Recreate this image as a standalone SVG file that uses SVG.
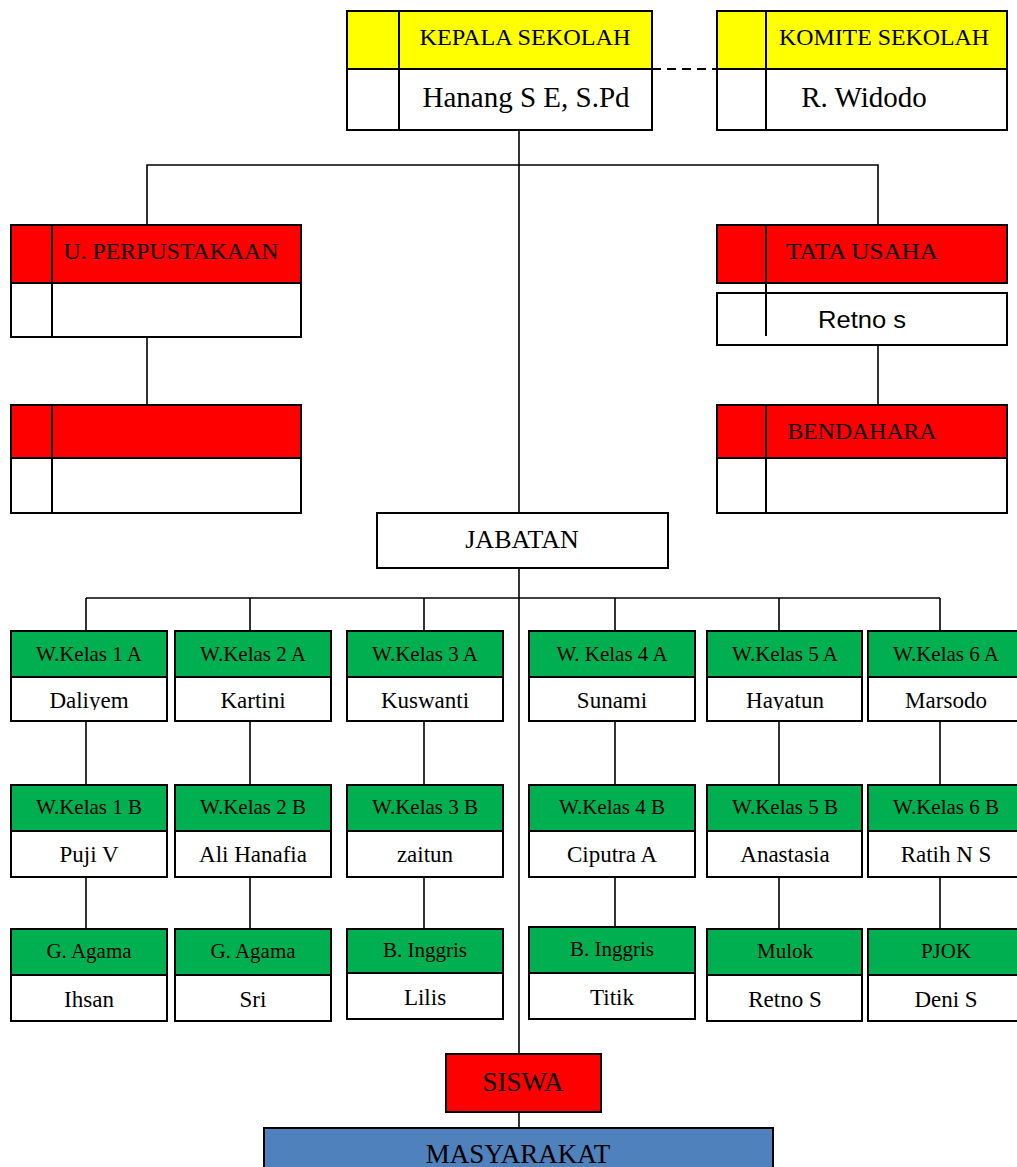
<svg xmlns="http://www.w3.org/2000/svg" width="1017" height="1167" viewBox="0 0 1017 1167">
<style>
.box{stroke:#000;stroke-width:2}
.yel{fill:#FFFF00}
.red{fill:#FF0000}
.grn{fill:#00B050}
.blu{fill:#4F81BD}
.wht{fill:#FFFFFF}
.div{stroke:#000;stroke-width:2}
.conn line,.conn polyline{stroke:#000;stroke-width:1.6;fill:none}
text{font-family:"Liberation Serif","Times New Roman",serif;fill:#000;text-anchor:middle}
.h{font-size:21px}
.n{font-size:23px}
.t{font-size:23px}
.sans{font-family:"Liberation Sans",Arial,sans-serif}
</style>
<defs>
<clipPath id="clipRowA"><rect x="0" y="677" width="1017" height="33"/></clipPath>
</defs>
<rect width="1017" height="1167" fill="#FFFFFF"/>

<g id="connectors" class="conn">
<line x1="652" y1="69" x2="717" y2="69" stroke-dasharray="9 6" style="stroke-width:2"/>
<line x1="519" y1="130" x2="519" y2="513"/>
<polyline points="147,225 147,165 878,165 878,225"/>
<line x1="147" y1="337" x2="147" y2="405"/>
<line x1="878" y1="337" x2="878" y2="405"/>
<line x1="519" y1="568" x2="519" y2="1054"/>
<line x1="86" y1="598" x2="940" y2="598"/>
<line x1="86" y1="598" x2="86" y2="631"/>
<line x1="250" y1="598" x2="250" y2="631"/>
<line x1="424" y1="598" x2="424" y2="631"/>
<line x1="615" y1="598" x2="615" y2="631"/>
<line x1="779" y1="598" x2="779" y2="631"/>
<line x1="940" y1="598" x2="940" y2="631"/>
<line x1="86" y1="721" x2="86" y2="785"/>
<line x1="250" y1="721" x2="250" y2="785"/>
<line x1="424" y1="721" x2="424" y2="785"/>
<line x1="615" y1="721" x2="615" y2="785"/>
<line x1="779" y1="721" x2="779" y2="785"/>
<line x1="940" y1="721" x2="940" y2="785"/>
<line x1="86" y1="877" x2="86" y2="929"/>
<line x1="250" y1="877" x2="250" y2="929"/>
<line x1="424" y1="877" x2="424" y2="929"/>
<line x1="615" y1="877" x2="615" y2="927"/>
<line x1="779" y1="877" x2="779" y2="929"/>
<line x1="940" y1="877" x2="940" y2="929"/>
<line x1="519" y1="1112" x2="519" y2="1128"/>
</g>

<g id="kepala-sekolah">
<rect class="box yel" x="347" y="11" width="305" height="58"/>
<rect class="box wht" x="347" y="69" width="305" height="61"/>
<line class="div" x1="399" y1="11" x2="399" y2="130"/>
<text x="525" y="45" class="t" textLength="211" lengthAdjust="spacingAndGlyphs">KEPALA SEKOLAH</text>
<text x="526" y="107" style="font-size:29px">Hanang S E, S.Pd</text>
</g>

<g id="komite-sekolah">
<rect class="box yel" x="717" y="11" width="290" height="58"/>
<rect class="box wht" x="717" y="69" width="290" height="61"/>
<line class="div" x1="766" y1="11" x2="766" y2="130"/>
<text x="884" y="45" class="t" textLength="210" lengthAdjust="spacingAndGlyphs">KOMITE SEKOLAH</text>
<text x="864" y="107" style="font-size:29px">R. Widodo</text>
</g>

<g id="u-perpustakaan">
<rect class="box red" x="11" y="225" width="290" height="58"/>
<rect class="box wht" x="11" y="283" width="290" height="54"/>
<line class="div" x1="52" y1="225" x2="52" y2="337"/>
<text x="171" y="259" class="t" textLength="215" lengthAdjust="spacingAndGlyphs">U. PERPUSTAKAAN</text>
</g>

<g id="perpustakaan-2">
<rect class="box red" x="11" y="405" width="290" height="53"/>
<rect class="box wht" x="11" y="458" width="290" height="55"/>
<line class="div" x1="52" y1="405" x2="52" y2="513"/>
</g>

<g id="tata-usaha">
<rect class="box red" x="717" y="225" width="290" height="58"/>
<rect class="box wht" x="717" y="293" width="290" height="52"/>
<line class="div" x1="766" y1="225" x2="766" y2="336"/>
<text x="862" y="259" class="t" textLength="152" lengthAdjust="spacingAndGlyphs">TATA USAHA</text>
<text x="862" y="328" class="sans" style="font-size:24px" textLength="88" lengthAdjust="spacingAndGlyphs">Retno s</text>
</g>

<g id="bendahara">
<rect class="box red" x="717" y="405" width="290" height="53"/>
<rect class="box wht" x="717" y="458" width="290" height="55"/>
<line class="div" x1="766" y1="405" x2="766" y2="513"/>
<text x="862" y="439" class="t" textLength="149" lengthAdjust="spacingAndGlyphs">BENDAHARA</text>
</g>

<g id="jabatan">
<rect class="box wht" x="377" y="513" width="291" height="55"/>
<text x="522" y="548" style="font-size:26px">JABATAN</text>
</g>

<g id="wk1a">
<rect class="box grn" x="11" y="631" width="156" height="46"/>
<rect class="box wht" x="11" y="677" width="156" height="44"/>
<text x="89" y="661" class="h">W.Kelas 1 A</text>
<text x="89" y="708" class="n" clip-path="url(#clipRowA)">Daliyem</text>
</g>
<g id="wk2a">
<rect class="box grn" x="175" y="631" width="156" height="46"/>
<rect class="box wht" x="175" y="677" width="156" height="44"/>
<text x="253" y="661" class="h">W.Kelas 2 A</text>
<text x="253" y="708" class="n">Kartini</text>
</g>
<g id="wk3a">
<rect class="box grn" x="347" y="631" width="156" height="46"/>
<rect class="box wht" x="347" y="677" width="156" height="44"/>
<text x="425" y="661" class="h">W.Kelas 3 A</text>
<text x="425" y="708" class="n">Kuswanti</text>
</g>
<g id="wk4a">
<rect class="box grn" x="529" y="631" width="166" height="46"/>
<rect class="box wht" x="529" y="677" width="166" height="44"/>
<text x="612" y="661" class="h">W. Kelas 4 A</text>
<text x="612" y="708" class="n">Sunami</text>
</g>
<g id="wk5a">
<rect class="box grn" x="707" y="631" width="155" height="46"/>
<rect class="box wht" x="707" y="677" width="155" height="44"/>
<text x="785" y="661" class="h">W.Kelas 5 A</text>
<text x="785" y="708" class="n" clip-path="url(#clipRowA)">Hayatun</text>
</g>
<g id="wk6a">
<rect class="box grn" x="868" y="631" width="156" height="46"/>
<rect class="box wht" x="868" y="677" width="156" height="44"/>
<text x="946" y="661" class="h">W.Kelas 6 A</text>
<text x="946" y="708" class="n">Marsodo</text>
</g>

<g id="wk1b">
<rect class="box grn" x="11" y="785" width="156" height="46"/>
<rect class="box wht" x="11" y="831" width="156" height="46"/>
<text x="89" y="814" class="h">W.Kelas 1 B</text>
<text x="89" y="862" class="n">Puji V</text>
</g>
<g id="wk2b">
<rect class="box grn" x="175" y="785" width="156" height="46"/>
<rect class="box wht" x="175" y="831" width="156" height="46"/>
<text x="253" y="814" class="h">W.Kelas 2 B</text>
<text x="253" y="862" class="n">Ali Hanafia</text>
</g>
<g id="wk3b">
<rect class="box grn" x="347" y="785" width="156" height="46"/>
<rect class="box wht" x="347" y="831" width="156" height="46"/>
<text x="425" y="814" class="h">W.Kelas 3 B</text>
<text x="425" y="862" class="n">zaitun</text>
</g>
<g id="wk4b">
<rect class="box grn" x="529" y="785" width="166" height="46"/>
<rect class="box wht" x="529" y="831" width="166" height="46"/>
<text x="612" y="814" class="h">W.Kelas 4 B</text>
<text x="612" y="862" class="n">Ciputra A</text>
</g>
<g id="wk5b">
<rect class="box grn" x="707" y="785" width="155" height="46"/>
<rect class="box wht" x="707" y="831" width="155" height="46"/>
<text x="785" y="814" class="h">W.Kelas 5 B</text>
<text x="785" y="862" class="n">Anastasia</text>
</g>
<g id="wk6b">
<rect class="box grn" x="868" y="785" width="156" height="46"/>
<rect class="box wht" x="868" y="831" width="156" height="46"/>
<text x="946" y="814" class="h">W.Kelas 6 B</text>
<text x="946" y="862" class="n">Ratih N S</text>
</g>

<g id="agama-1">
<rect class="box grn" x="11" y="929" width="156" height="46"/>
<rect class="box wht" x="11" y="975" width="156" height="46"/>
<text x="89" y="958" class="h">G. Agama</text>
<text x="89" y="1007" class="n">Ihsan</text>
</g>
<g id="agama-2">
<rect class="box grn" x="175" y="929" width="156" height="46"/>
<rect class="box wht" x="175" y="975" width="156" height="46"/>
<text x="253" y="958" class="h">G. Agama</text>
<text x="253" y="1007" class="n">Sri</text>
</g>
<g id="inggris-1">
<rect class="box grn" x="347" y="929" width="156" height="44"/>
<rect class="box wht" x="347" y="973" width="156" height="46"/>
<text x="425" y="957" class="h">B. Inggris</text>
<text x="425" y="1005" class="n">Lilis</text>
</g>
<g id="inggris-2">
<rect class="box grn" x="529" y="927" width="166" height="46"/>
<rect class="box wht" x="529" y="973" width="166" height="46"/>
<text x="612" y="956" class="h">B. Inggris</text>
<text x="612" y="1005" class="n">Titik</text>
</g>
<g id="mulok">
<rect class="box grn" x="707" y="929" width="155" height="46"/>
<rect class="box wht" x="707" y="975" width="155" height="46"/>
<text x="785" y="958" class="h">Mulok</text>
<text x="785" y="1007" class="n">Retno S</text>
</g>
<g id="pjok">
<rect class="box grn" x="868" y="929" width="156" height="46"/>
<rect class="box wht" x="868" y="975" width="156" height="46"/>
<text x="946" y="958" class="h">PJOK</text>
<text x="946" y="1007" class="n">Deni S</text>
</g>

<g id="siswa">
<rect class="box red" x="446" y="1054" width="155" height="58"/>
<text x="523" y="1091" style="font-size:27px">SISWA</text>
</g>

<g id="masyarakat">
<rect class="box blu" x="264" y="1128" width="509" height="50"/>
<text x="518" y="1163" style="font-size:27px">MASYARAKAT</text>
</g>
</svg>
